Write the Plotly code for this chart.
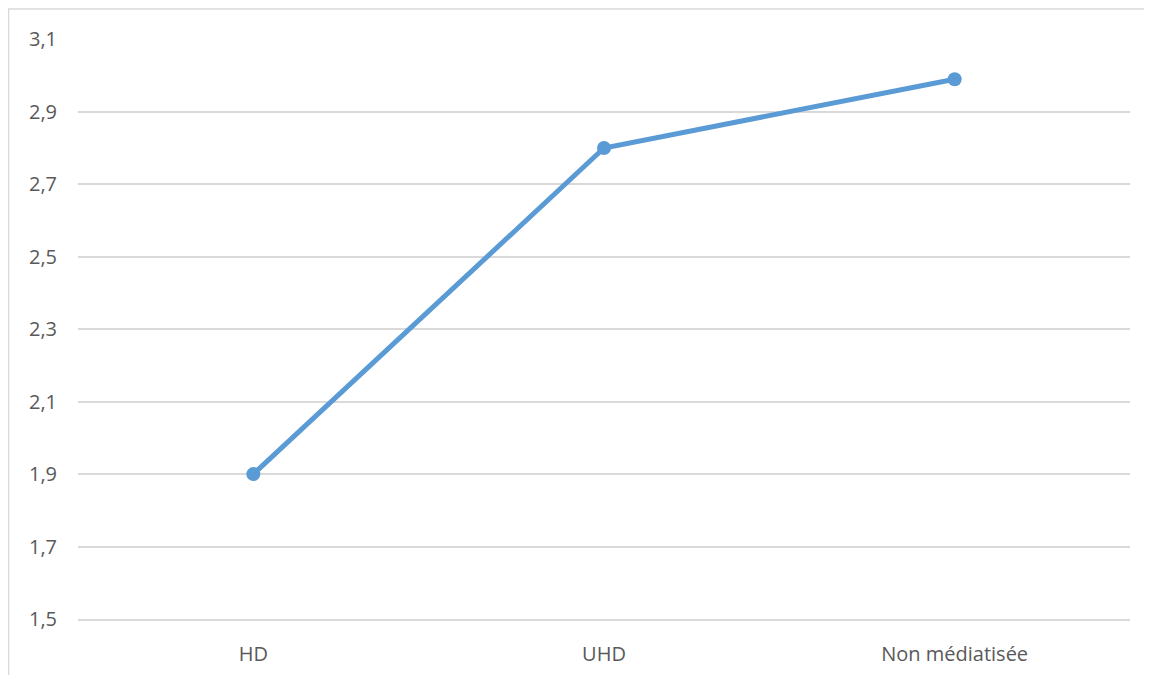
import plotly.graph_objects as go

categories = ["HD", "UHD", "Non médiatisée"]
values = [1.9, 2.8, 2.99]
y_ticks = [1.5, 1.7, 1.9, 2.1, 2.3, 2.5, 2.7, 2.9, 3.1]

fig = go.Figure()
fig.add_trace(go.Scatter(x=categories, y=values, mode="lines+markers",
                         line=dict(color="#5B9BD5", width=5),
                         marker=dict(color="#5B9BD5", size=14),
                         showlegend=False))

# chart border (cropped on right and bottom in the original)
fig.add_shape(type="rect", xref="paper", yref="paper",
              x0=-0.066, x1=1.05, y0=-0.15, y1=1.0517,
              line=dict(color="#D9D9D9", width=1.5), layer="below")

fig.update_layout(
    width=1152, height=675,
    margin=dict(l=70, r=30, t=31, b=64),
    paper_bgcolor="white", plot_bgcolor="white",
    separators=", ",
    font=dict(family="Open Sans, Liberation Sans, sans-serif", size=20, color="#595959"),
    xaxis=dict(range=[-0.5, 2.5], showgrid=False, showline=True,
               linecolor="#D9D9D9", linewidth=1.5, ticks="",
               ticklabelstandoff=16),
    yaxis=dict(range=[1.5, 3.101], tickvals=y_ticks, tickformat=".1f",
               showgrid=True, gridcolor="#D9D9D9", gridwidth=1.5,
               zeroline=False, showline=False, ticks="", ticklabelstandoff=20),
)

fig.write_html("out.html")
